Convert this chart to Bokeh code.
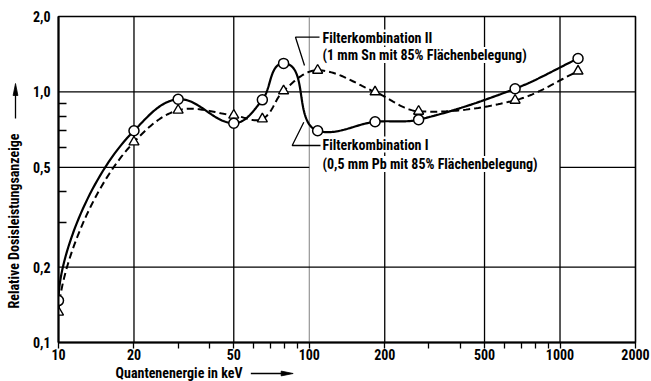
import numpy as np
from bokeh.plotting import figure
from bokeh.layouts import row, column
from bokeh.models import FixedTicker, CustomJSTickFormatter, Label
from bokeh.core.properties import value
from bokeh.embed import file_html
from bokeh.resources import INLINE

# Photon energy (keV) and relative dose-rate reading for both filter combinations
energy_kev = [10, 20, 30, 50, 65, 79, 108, 183, 273, 662, 1180]
response_pb = [0.147, 0.70, 0.935, 0.75, 0.93, 1.30, 0.70, 0.76, 0.775, 1.03, 1.36]   # Filterkombination I
response_sn = [0.132, 0.631, 0.845, 0.807, 0.78, 1.01, 1.22, 1.00, 0.837, 0.926, 1.21]  # Filterkombination II

x_major = [10, 20, 50, 100, 200, 500, 1000, 2000]
x_minor = [30, 40, 60, 70, 80, 90, 300, 400, 600, 700, 800, 900]
y_major = [0.1, 0.2, 0.5, 1.0, 2.0]
y_minor = [0.3, 0.4, 0.6, 0.7, 0.8, 0.9]

label_pb = ["Filterkombination I", "(0,5 mm Pb mit 85% Flächenbelegung)"]
label_sn = ["Filterkombination II", "(1 mm Sn mit 85% Flächenbelegung)"]
x_title = "Quantenenergie in keV"
y_title = "Relative Dosisleistungsanzeige"

FONT = "Roboto Condensed, DejaVu Sans Condensed, Liberation Sans Narrow, Roboto, sans-serif"
W, H = 651, 381                 # whole page
LS, BS = 24, 16                 # strip for the y title (left) and x title (bottom)
LEFT, RIGHT, TOP, BOTTOM = 58, 635, 16, 342   # plot frame on the page
X0, X1 = x_major[0], x_major[-1]
Y0, Y1 = y_major[0], y_major[-1]


def fx(px):
    """Page x (pixels) -> energy on the log axis."""
    return 10 ** (np.log10(X0) + (px - LEFT) / (RIGHT - LEFT) * np.log10(X1 / X0))


def fy(py):
    """Page y (pixels from top) -> value on the log axis."""
    return 10 ** (np.log10(Y0) + (BOTTOM - py) / (BOTTOM - TOP) * np.log10(Y1 / Y0))


def smooth_curve(xs, ys, directions=None, samples=40):
    """Smooth parametric Hermite curve through the points in log-log space.

    directions: {index: (dx, dy, scale)} fixes the tangent at a point."""
    P = np.column_stack([np.log10(np.asarray(xs, float)), np.log10(np.asarray(ys, float))])
    n = len(P)
    U = np.zeros_like(P)
    S = np.ones(n)
    for i in range(n):
        if i == 0:
            d = P[1] - P[0]
        elif i == n - 1:
            d = P[-1] - P[-2]
        else:
            d = P[i + 1] - P[i - 1]
        U[i] = d / np.hypot(*d)
    for i, (dx, dy, sc) in (directions or {}).items():
        U[i] = np.array([dx, dy]) / np.hypot(dx, dy)
        S[i] = sc
    t = np.linspace(0, 1, samples)[:, None]
    h00 = 2 * t**3 - 3 * t**2 + 1
    h10 = t**3 - 2 * t**2 + t
    h01 = -2 * t**3 + 3 * t**2
    h11 = t**3 - t**2
    parts = [P[:1]]
    for i in range(n - 1):
        L = np.hypot(*(P[i + 1] - P[i]))
        seg = (h00 * P[i] + h10 * U[i] * L * S[i]
               + h01 * P[i + 1] + h11 * U[i + 1] * L * S[i + 1])
        parts.append(seg[1:])
    pts = np.vstack(parts)
    return 10 ** pts[:, 0], 10 ** pts[:, 1]


# ---------------- main chart ----------------
p = figure(width=W - LS, height=H - BS, x_axis_type="log", y_axis_type="log",
           x_range=(X0, X1), y_range=(Y0, Y1),
           output_backend="svg", toolbar_location=None,
           min_border_left=LEFT - LS, min_border_right=W - RIGHT,
           min_border_top=TOP, min_border_bottom=H - BS - BOTTOM)
p.background_fill_color = "white"
p.border_fill_color = "white"
p.grid.visible = False
p.outline_line_color = "black"
p.outline_line_width = 1.6

for ax in (p.xaxis[0], p.yaxis[0]):
    ax.axis_line_color = "black"
    ax.axis_line_width = 2
    ax.major_tick_line_color = "black"
    ax.minor_tick_line_color = "black"
    ax.major_tick_line_width = 1.3
    ax.minor_tick_line_width = 1.3
    ax.major_label_text_font = FONT
    ax.major_label_text_font_style = "bold"
    ax.major_label_text_font_size = "14px"
    ax.major_label_text_color = "black"

p.xaxis.ticker = FixedTicker(ticks=x_major, minor_ticks=x_minor)
p.xaxis.formatter = CustomJSTickFormatter(code="return tick.toFixed(0)")
p.xaxis.major_tick_in = 0
p.xaxis.major_tick_out = 6
p.xaxis.minor_tick_in = 0
p.xaxis.minor_tick_out = 6
p.xaxis.major_label_standoff = 0

p.yaxis.ticker = FixedTicker(ticks=y_major, minor_ticks=y_minor)
p.yaxis.formatter = CustomJSTickFormatter(code="return tick.toFixed(1).replace('.', ',')")
p.yaxis.major_tick_in = 0
p.yaxis.major_tick_out = 0
p.yaxis.minor_tick_in = 8
p.yaxis.minor_tick_out = 0
p.yaxis.major_label_standoff = 8

# grid lines (the 0,5 line is left open behind the lower label)
vx = x_major[1:-1]
p.segment(x0=vx, y0=[Y0] * len(vx), x1=vx, y1=[Y1] * len(vx),
          line_color=["#808080" if v == 100 else "black" for v in vx],
          line_width=[1.0 if v == 100 else 1.3 for v in vx])
hy = [y_major[1], y_major[3]]
p.segment(x0=[X0] * len(hy), y0=hy, x1=[X1] * len(hy), y1=hy, line_color="black", line_width=1.3)
p.segment(x0=[X0, 1000], y0=[0.5, 0.5], x1=[100, X1], y1=[0.5, 0.5], line_color="black", line_width=1.3)

# response curves
sx, sy = smooth_curve(energy_kev, response_sn,
                      directions={0: (0.05, 1.0, 0.7), 1: (1.0, 1.05, 1.0)})
p.line(sx, sy, line_color="black", line_width=2.0, line_dash="7 4")
cx, cy = smooth_curve(energy_kev, response_pb,
                      directions={0: (0.0, 1.0, 0.7), 1: (1.0, 1.0, 1.0),
                                  5: (1.0, 0.0, 1.0), 6: (1.0, -0.3, 1.0)})
p.line(cx, cy, line_color="black", line_width=2.2)

p.scatter(energy_kev, response_sn, marker="triangle", size=10, line_color="black",
          line_width=1.4, fill_color="white")
p.scatter(energy_kev, response_pb, marker="circle", size=10, line_color="black",
          line_width=1.5, fill_color="white")

# leader lines from the labels to the curves
p.line([fx(319), fx(295), fx(304)], [fy(36.7), fy(36.7), fy(65)], line_color="black", line_width=1.3)
p.line([fx(320), fx(291.7), fx(303.3)], [fy(145), fy(145), fy(121.7)], line_color="black", line_width=1.3)


def curve_label(px, py, s):
    p.add_layout(Label(x=fx(px), y=fy(py), text=s, text_font=FONT, text_font_style="bold",
                       text_font_size="14px", text_color="black", text_align="left",
                       text_baseline="middle", background_fill_color="white"))


curve_label(322, 37, label_sn[0])
curve_label(322, 54.5, label_sn[1])
curve_label(322, 144, label_pb[0])
curve_label(322, 163.5, label_pb[1])


def strip(width, height, x_range, y_range):
    f = figure(width=width, height=height, x_range=x_range, y_range=y_range,
               output_backend="svg", toolbar_location=None, min_border=0,
               x_axis_location=None, y_axis_location=None)
    f.grid.visible = False
    f.outline_line_color = None
    f.background_fill_color = "white"
    f.border_fill_color = "white"
    return f


# ---------------- y title strip (page pixels, y downwards) ----------------
ys = strip(LS, H, (0, LS), (H, 0))
ys.text(x=[13.5], y=[220.5], text=[y_title], angle=np.pi / 2,
        text_font=value(FONT), text_font_style="bold", text_font_size="14px",
        text_color="black", text_align="center", text_baseline="middle")
ys.segment(x0=[15], y0=[118], x1=[15], y1=[93], line_color="black", line_width=1.3)
ys.patch(x=[12.6, 15, 17.4], y=[95, 83, 95], fill_color="black", line_color="black", line_width=0.8)

# ---------------- x title strip ----------------
xs = strip(W - LS, BS, (LS, W), (H, H - BS))
xs.text(x=[86], y=[372.5], text=[x_title],
        text_font=value(FONT), text_font_style="bold", text_font_size="14px",
        text_color="black", text_align="left", text_baseline="middle")
xs.segment(x0=[233], y0=[373], x1=[268], y1=[373], line_color="black", line_width=1.5)
xs.patch(x=[266, 279, 266], y=[370.6, 373, 375.4], fill_color="black", line_color="black", line_width=0.8)

page = row(ys, column(p, xs))
open("out.html", "w").write(file_html(page, INLINE))
